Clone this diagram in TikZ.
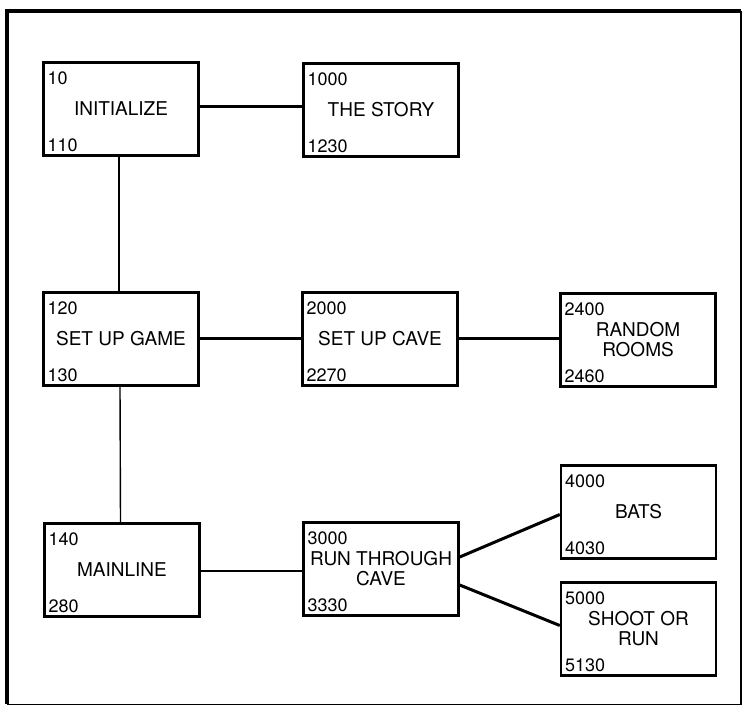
\documentclass[tikz,border=0pt]{standalone}
\usepackage{fontspec}
\setmainfont{TeX Gyre Heros}
\usetikzlibrary{positioning,calc}

\begin{document}
\begin{tikzpicture}[x=1pt,y=1pt,
  box/.style={draw, line width=2.4pt, minimum width=155pt, minimum height=93pt,
    align=center, inner sep=0pt, font=\fontsize{19}{20}\selectfont},
  num/.style={inner sep=0pt, font=\fontsize{18}{18}\selectfont},
  thinlink/.style={line width=1.4pt},
  midlink/.style={line width=2pt},
  thicklink/.style={line width=3pt}]
\useasboundingbox (0,0) rectangle (743,-707);

% outer frame
\draw[line width=3.5pt] (7,-704) -- (7,-11) -- (741,-11);
\draw[line width=1.5pt] (7,-704.5) -- (741,-704.5) -- (741,-11);

% program blocks
\node[box] (init)  at (121,-109)   {INITIALIZE};
\node[box] (story) at (381,-110)   {THE STORY};
\node[box] (game)  at (121,-339)   {SET UP GAME};
\node[box] (cave)  at (380,-339)   {SET UP CAVE};
\node[box] (rooms) at (638,-340)   {RANDOM\\ROOMS};
\node[box] (main)  at (122,-570)   {MAINLINE};
\node[box] (run)   at (381,-569)   {RUN THROUGH\\CAVE};
\node[box] (bats)  at (638.5,-512) {BATS};
\node[box] (shoot) at (638.5,-629) {SHOOT OR\\RUN};

% line numbers
\node[num, anchor=north west] (initA)  at ([shift={(5,-10)}]init.north west)  {10};
\node[num, anchor=south west] (initB)  at ([shift={(5,5)}]init.south west)    {110};
\node[num, anchor=north west] (storyA) at ([shift={(5,-10)}]story.north west) {1000};
\node[num, anchor=south west] (storyB) at ([shift={(5,5)}]story.south west)   {1230};
\node[num, anchor=north west] (gameA)  at ([shift={(5,-10)}]game.north west)  {120};
\node[num, anchor=south west] (gameB)  at ([shift={(5,5)}]game.south west)    {130};
\node[num, anchor=north west] (caveA)  at ([shift={(5,-10)}]cave.north west)  {2000};
\node[num, anchor=south west] (caveB)  at ([shift={(5,5)}]cave.south west)    {2270};
\node[num, anchor=north west] (roomsA) at ([shift={(5,-10)}]rooms.north west) {2400};
\node[num, anchor=south west] (roomsB) at ([shift={(5,5)}]rooms.south west)   {2460};
\node[num, anchor=north west] (mainA)  at ([shift={(5,-10)}]main.north west)  {140};
\node[num, anchor=south west] (mainB)  at ([shift={(5,5)}]main.south west)    {280};
\node[num, anchor=north west] (runA)   at ([shift={(5,-10)}]run.north west)   {3000};
\node[num, anchor=south west] (runB)   at ([shift={(5,5)}]run.south west)     {3330};
\node[num, anchor=north west] (batsA)  at ([shift={(5,-10)}]bats.north west)  {4000};
\node[num, anchor=south west] (batsB)  at ([shift={(5,5)}]bats.south west)    {4030};
\node[num, anchor=north west] (shootA) at ([shift={(5,-10)}]shoot.north west) {5000};
\node[num, anchor=south west] (shootB) at ([shift={(5,5)}]shoot.south west)   {5130};

% connections
\draw[thicklink] ([yshift=3pt]init.east) -- ([yshift=4pt]story.west);
\draw[thinlink] ([xshift=-2pt]init.south) -- ([xshift=-2pt]game.north);
\draw[thicklink] ([yshift=1pt]game.east) -- ([yshift=1pt]cave.west);
\draw[thicklink] ([yshift=1pt]cave.east) -- ([yshift=2pt]rooms.west);
\draw[thinlink] ([xshift=-1pt]game.south) -- ([xshift=-1.5pt]main.north);
\draw[midlink] ([yshift=-1pt]main.east) -- ([yshift=-2pt]run.west);
\draw[thicklink] ([yshift=12pt]run.east) -- ([yshift=-2.5pt]bats.west);
\draw[thicklink] ([yshift=-16pt]run.east) -- ([yshift=3.5pt]shoot.west);

\end{tikzpicture}
\end{document}
